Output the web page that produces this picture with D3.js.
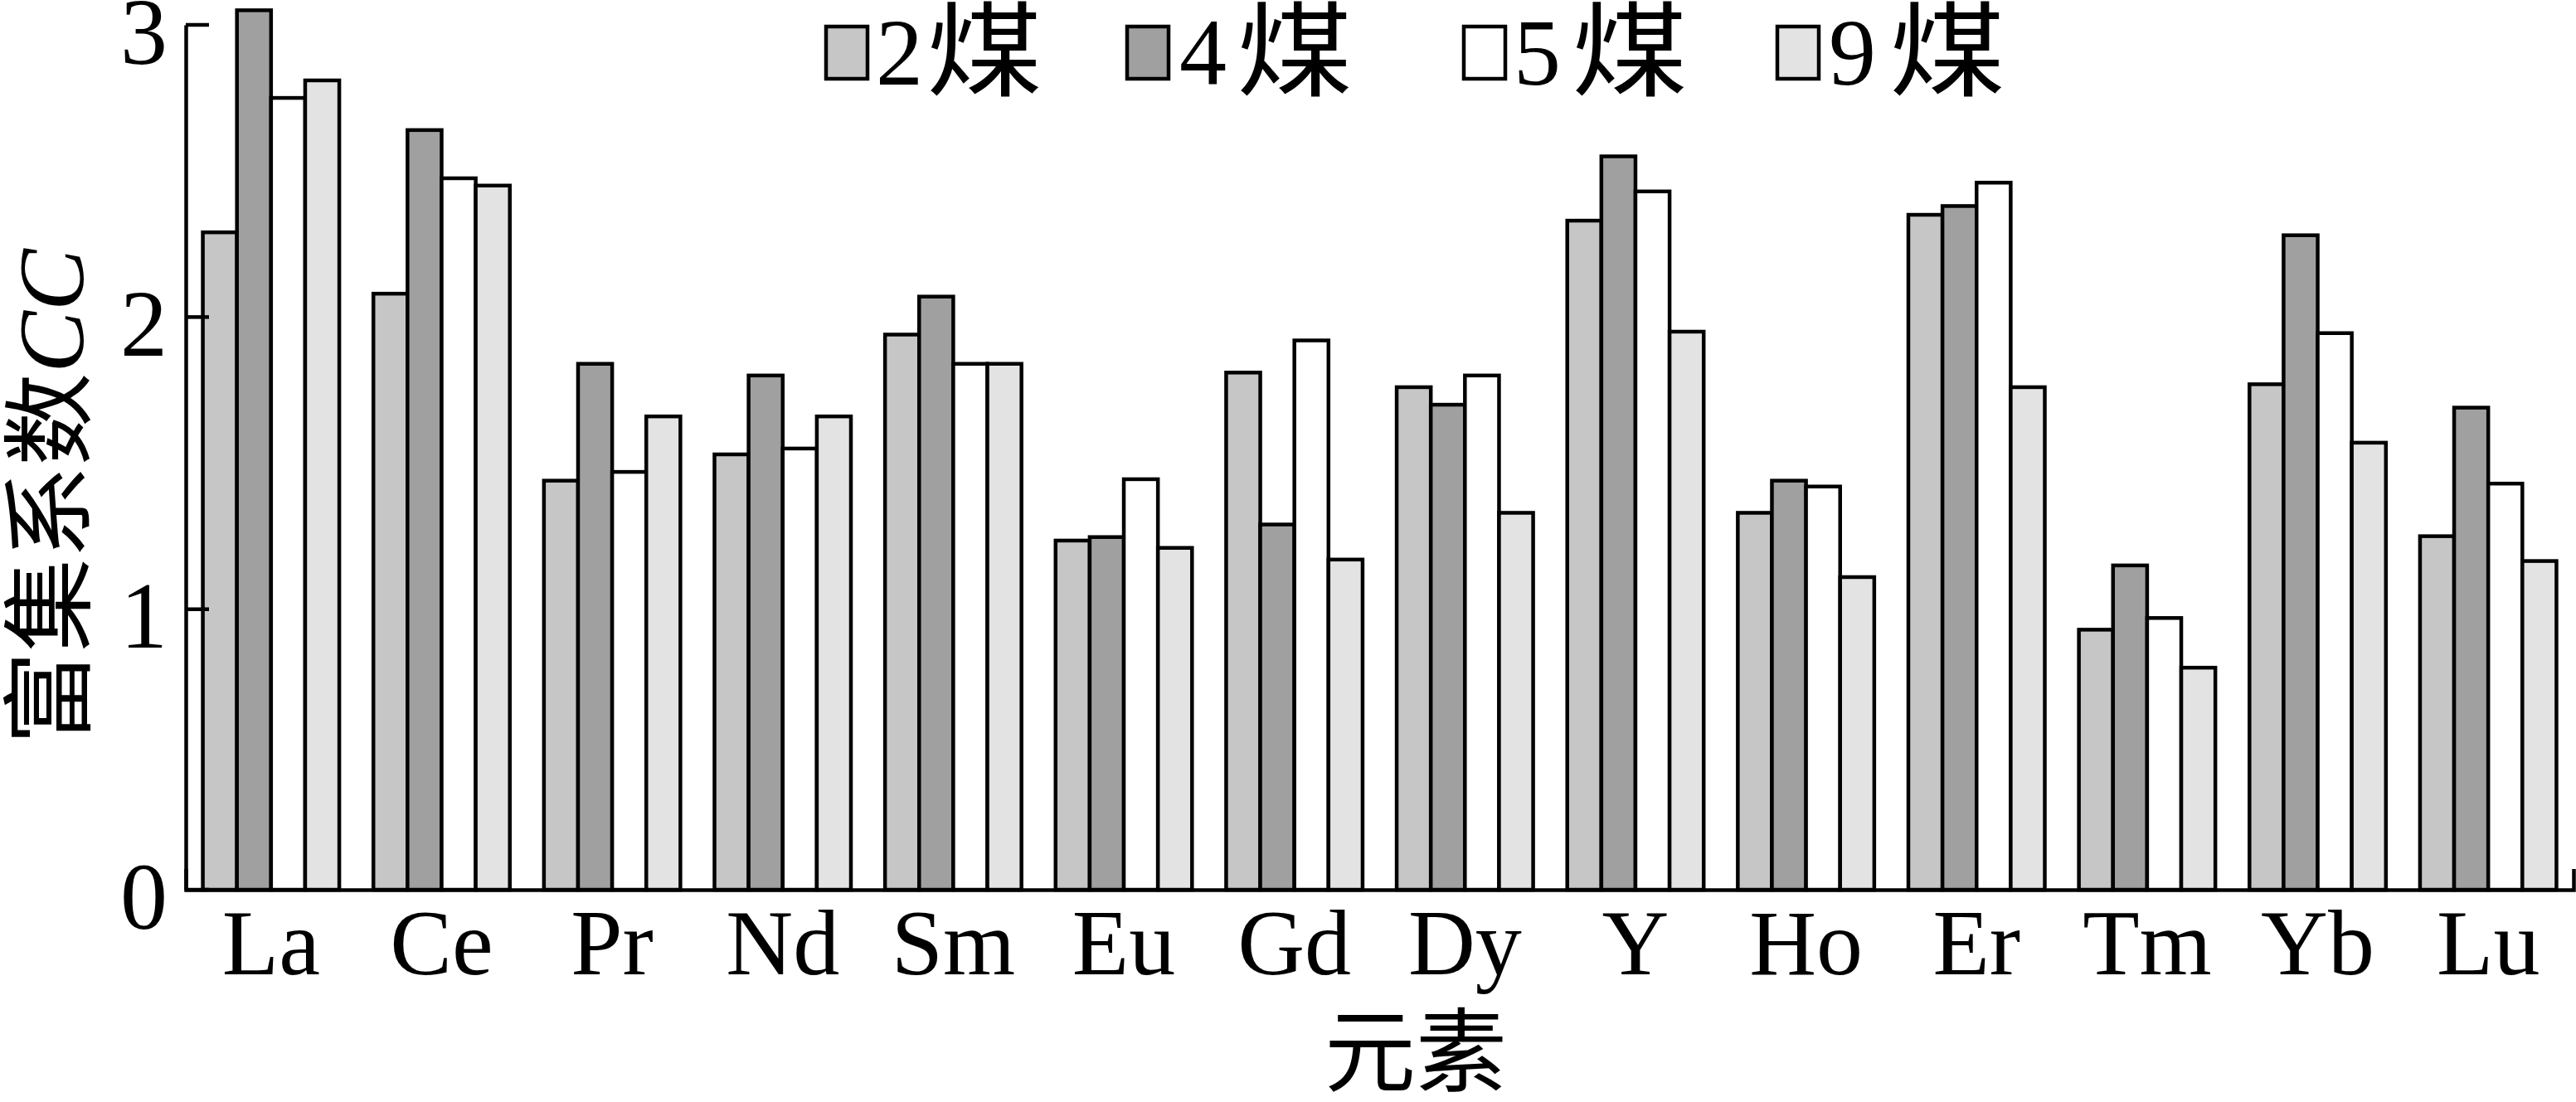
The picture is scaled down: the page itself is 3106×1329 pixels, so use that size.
<!DOCTYPE html>
<html>
<head>
<meta charset="utf-8">
<script src="https://cdn.jsdelivr.net/npm/d3@7"></script>
<style>
  html, body { margin: 0; padding: 0; background: #fff; }
  svg { display: block; }
</style>
</head>
<body>
<script>
// ---- data ----
const categories = ["La","Ce","Pr","Nd","Sm","Eu","Gd","Dy","Y","Ho","Er","Tm","Yb","Lu"];
const seriesNames = ["2煤","4煤","5煤","9煤"];
const seriesDigits = ["2","4","5","9"];
const coal2 = [2.29,2.08,1.44,1.53,1.94,1.235,1.81,1.76,2.33,1.33,2.35,0.93,1.77,1.25];
const coal4 = [3.05,2.64,1.84,1.80,2.07,1.247,1.29,1.70,2.55,1.44,2.38,1.15,2.28,1.69];
const coal5 = [2.75,2.475,1.47,1.55,1.84,1.445,1.92,1.80,2.43,1.42,2.46,0.97,1.945,1.43];
const coal9 = [2.81,2.45,1.66,1.66,1.84,1.21,1.17,1.33,1.95,1.11,1.76,0.80,1.57,1.165];
const yTicks = [0,1,2,3];
const yTitle = "富集系数";
const yTitleItalic = "CC";
const xTitle = "元素";

const seriesValues = [coal2, coal4, coal5, coal9];
const seriesColors = ["#c6c6c6","#a0a0a0","#ffffff","#e3e3e3"];

// ---- layout ----
const W = 3106, H = 1329;
const mLeft = 224, mRight = 3103, mTop = 30, mBottom = 1073;
const axisMin = 0.04;
const FONT = "'Liberation Serif','Times New Roman','Noto Sans CJK SC',serif";
const CJK = "'Noto Sans CJK SC',sans-serif";
const SW = 4.5;

const svg = d3.select("body").append("svg")
  .attr("width", W).attr("height", H)
  .attr("viewBox", `0 0 ${W} ${H}`);
svg.append("rect").attr("width", W).attr("height", H).attr("fill", "#fff");

const x = d3.scaleBand().domain(categories).range([mLeft, mRight])
  .paddingInner(0.2).paddingOuter(0.1);
const xs = d3.scaleBand().domain(d3.range(seriesNames.length)).range([0, x.bandwidth()]);
const y = d3.scaleLinear().domain([axisMin, 3]).range([mBottom, mTop]);

// bars
const data = [];
categories.forEach((c, i) => {
  seriesValues.forEach((arr, s) => data.push({c, s, v: arr[i]}));
});
svg.append("g").selectAll("rect").data(data).join("rect")
  .attr("x", d => x(d.c) + xs(d.s))
  .attr("width", xs.bandwidth())
  .attr("y", d => y(d.v))
  .attr("height", d => y(axisMin) - y(d.v))
  .attr("fill", d => seriesColors[d.s])
  .attr("stroke", "#000").attr("stroke-width", SW);

// x axis
const gx = svg.append("g").attr("transform", `translate(0,${mBottom})`)
  .call(d3.axisBottom(x).tickSize(0).tickSizeOuter(-25));
gx.select(".domain").attr("stroke", "#000").attr("stroke-width", SW).attr("fill", "none");
gx.selectAll("text").attr("dy", null).attr("y", 102)
  .attr("font-family", FONT).attr("font-size", 112).attr("fill", "#000");

// y axis
const gy = svg.append("g").attr("transform", `translate(${mLeft},0)`)
  .call(d3.axisLeft(y).tickValues(yTicks).tickFormat(d3.format("d"))
    .tickSize(-28).tickSizeOuter(0).tickPadding(22));
gy.selectAll(".tick").attr("transform", d => `translate(0,${y(Math.max(d, axisMin))})`);
gy.select(".domain").attr("stroke", "#000").attr("stroke-width", SW);
gy.selectAll(".tick line").attr("stroke", "#000").attr("stroke-width", SW);
gy.selectAll("text").attr("dy", "0.41em")
  .attr("font-family", FONT).attr("font-size", 114).attr("fill", "#000");

// y title
const yt = svg.append("text")
  .attr("transform", "translate(100,599) rotate(-90)")
  .attr("text-anchor", "middle")
  .attr("font-size", 112).attr("fill", "#000");
yt.append("tspan").attr("font-family", CJK).text(yTitle);
yt.append("tspan").attr("font-family", FONT).attr("font-style", "italic").text(yTitleItalic);

// x title
svg.append("text").attr("x", 1707).attr("y", 1308)
  .attr("text-anchor", "middle").attr("font-family", CJK)
  .attr("font-size", 110).attr("fill", "#000").text(xTitle);

// legend
const legendRectX = [996, 1359, 1765, 2143];
const legendDigitX = [1056, 1422, 1825, 2205];
const legendCharX = [1117, 1491, 1895, 2278];
const lg = svg.append("g");
seriesNames.forEach((name, i) => {
  lg.append("rect").attr("x", legendRectX[i]).attr("y", 32)
    .attr("width", 50).attr("height", 63)
    .attr("fill", seriesColors[i]).attr("stroke", "#000").attr("stroke-width", SW);
  lg.append("text").attr("x", legendDigitX[i]).attr("y", 102)
    .attr("font-family", FONT).attr("font-size", 114).attr("fill", "#000")
    .text(seriesDigits[i]);
  lg.append("text").attr("x", legendCharX[i]).attr("y", 106)
    .attr("font-family", CJK).attr("font-size", 124).attr("fill", "#000")
    .attr("textLength", 140).attr("lengthAdjust", "spacingAndGlyphs")
    .text(name.slice(1));
});
</script>
</body>
</html>
